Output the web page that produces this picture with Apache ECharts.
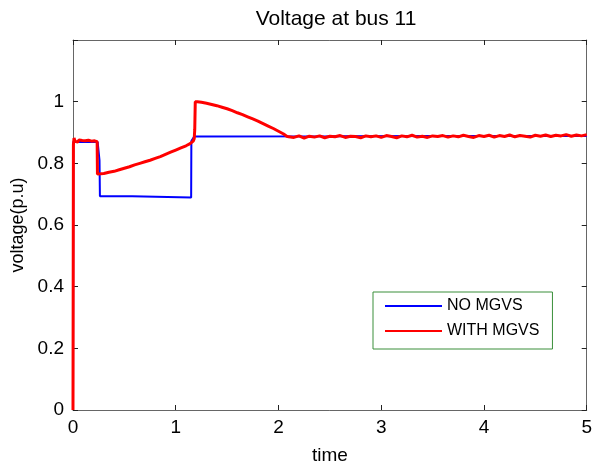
<!DOCTYPE html>
<html>
<head>
<meta charset="utf-8">
<script src="https://cdn.jsdelivr.net/npm/echarts@6/dist/echarts.min.js"></script>
<style>
html,body{margin:0;padding:0;background:#fff;}
#chart{width:595px;height:470px;}
</style>
</head>
<body>
<div id="chart"></div>
<script>
const titleText = 'Voltage at bus 11';
const xName = 'time';
const yName = 'voltage(p.u)';
const seriesNames = ['NO MGVS', 'WITH MGVS'];

const blueT = [0, 0.003, 0.24, 0.258, 0.262, 0.575, 0.58, 1.15, 1.152, 1.18, 2.5, 3.5, 5];
const blueV = [0, 0.87, 0.869, 0.81, 0.693, 0.693, 0.689, 0.689, 0.872, 0.887, 0.888, 0.889, 0.889];

const redT = [0, 0.004, 0.01, 0.02, 0.03, 0.045, 0.06, 0.075, 0.09, 0.105, 0.12, 0.135, 0.15, 0.165, 0.18, 0.195, 0.21, 0.225, 0.235, 0.238,
  0.25, 0.30, 0.35, 0.40, 0.45, 0.50, 0.55, 0.60, 0.65, 0.70, 0.75, 0.80, 0.85, 0.90, 0.95, 1.00, 1.05, 1.10, 1.14, 1.17, 1.18, 1.185, 1.19, 1.21, 1.25,
  1.30, 1.35, 1.40, 1.45, 1.50, 1.55, 1.60, 1.65, 1.70, 1.75, 1.80, 1.85, 1.90, 1.95, 2.00, 2.05, 2.08, 2.10,
  2.15, 2.20, 2.25, 2.30, 2.35, 2.40, 2.45, 2.50, 2.55, 2.60, 2.65, 2.70, 2.75, 2.80, 2.85, 2.90, 2.95, 3.00,
  3.05, 3.10, 3.15, 3.20, 3.25, 3.30, 3.35, 3.40, 3.45, 3.50, 3.55, 3.60, 3.65, 3.70, 3.75, 3.80, 3.85, 3.90, 3.95, 4.00,
  4.05, 4.10, 4.15, 4.20, 4.25, 4.30, 4.35, 4.40, 4.45, 4.50, 4.55, 4.60, 4.65, 4.70, 4.75, 4.80, 4.85, 4.90, 4.95, 5.00];
const redV = [0, 0.86, 0.882, 0.872, 0.878, 0.869, 0.876, 0.871, 0.874, 0.868, 0.873, 0.87, 0.875, 0.869, 0.872, 0.87, 0.873, 0.871, 0.87, 0.765,
  0.765, 0.767, 0.771, 0.774, 0.779, 0.784, 0.789, 0.795, 0.800, 0.805, 0.810, 0.816, 0.822, 0.829, 0.836, 0.843, 0.850, 0.857, 0.864, 0.872, 0.88, 0.91, 1.0, 1.0, 0.998,
  0.995, 0.991, 0.987, 0.982, 0.977, 0.971, 0.964, 0.958, 0.951, 0.944, 0.937, 0.929, 0.921, 0.913, 0.904, 0.895, 0.888, 0.886,
  0.884, 0.889, 0.882, 0.888, 0.885, 0.889, 0.883, 0.888, 0.886, 0.890, 0.884, 0.888, 0.887, 0.883, 0.889, 0.886, 0.889, 0.884,
  0.890, 0.887, 0.883, 0.889, 0.886, 0.891, 0.885, 0.888, 0.884, 0.889, 0.887, 0.890, 0.885, 0.889, 0.886, 0.891, 0.887, 0.884, 0.890, 0.887,
  0.891, 0.885, 0.890, 0.887, 0.892, 0.886, 0.890, 0.888, 0.885, 0.891, 0.888, 0.892, 0.887, 0.891, 0.889, 0.893, 0.888, 0.892, 0.889, 0.893];

const xTicks = [0, 1, 2, 3, 4, 5];
const yTicks = [0, 0.2, 0.4, 0.6, 0.8, 1];

const FONT = "'Liberation Sans', Arial, sans-serif";
const frameColor = '#666';
const zip = (a, b) => a.map((t, i) => [t, b[i]]);

const chart = echarts.init(document.getElementById('chart'), null, {renderer: 'canvas'});
const axisCommon = {
  axisLine: {show: true, onZero: false, lineStyle: {color: frameColor, width: 1}},
  axisTick: {show: true, inside: true, length: 5, lineStyle: {color: '#222'}},
  splitLine: {show: false}
};
chart.setOption({
  animation: false,
  backgroundColor: '#fff',
  title: {
    text: titleText, left: 331, top: 4, textAlign: 'center',
    textStyle: {fontFamily: FONT, fontSize: 21, fontWeight: 'normal', color: '#000'}
  },
  grid: {left: 73, right: 6, top: 40, bottom: 59, containLabel: false},
  legend: {
    orient: 'vertical', left: 373, top: 292,
    padding: [6, 13, 10, 12],
    itemGap: 9, itemWidth: 57, itemHeight: 2,
    icon: 'rect',
    borderColor: '#3a8f3a', borderWidth: 1, backgroundColor: '#fff',
    textStyle: {fontFamily: FONT, fontSize: 16, color: '#000', lineHeight: 16},
    data: seriesNames
  },
  xAxis: [
    Object.assign({
      type: 'value', min: xTicks[0], max: xTicks[xTicks.length - 1], interval: 1, position: 'bottom',
      name: xName, nameLocation: 'middle', nameGap: 36,
      nameTextStyle: {fontFamily: FONT, fontSize: 19, color: '#000'},
      axisLabel: {fontFamily: FONT, fontSize: 19, color: '#000', margin: 8}
    }, axisCommon),
    Object.assign({
      type: 'value', min: xTicks[0], max: xTicks[xTicks.length - 1], interval: 1, position: 'top',
      axisLabel: {show: false}
    }, axisCommon)
  ],
  yAxis: [
    Object.assign({
      type: 'value', min: 0, max: 1.2, interval: 0.2, position: 'left',
      name: yName, nameLocation: 'middle', nameGap: 44, nameRotate: 90,
      nameTextStyle: {fontFamily: FONT, fontSize: 18, color: '#000'},
      axisLabel: {fontFamily: FONT, fontSize: 19, color: '#000', margin: 9,
        formatter: v => (yTicks.some(t => Math.abs(t - v) < 1e-6) ? String(+v.toFixed(1)) : '')}
    }, axisCommon),
    Object.assign({
      type: 'value', min: 0, max: 1.2, interval: 0.2, position: 'right',
      axisLabel: {show: false}
    }, axisCommon)
  ],
  series: [
    {
      name: seriesNames[0], type: 'line', xAxisIndex: 0, yAxisIndex: 0,
      data: zip(blueT, blueV), showSymbol: false, symbol: 'none',
      lineStyle: {color: '#0000ff', width: 2}, itemStyle: {color: '#0000ff'}, sampling: null
    },
    {
      name: seriesNames[1], type: 'line', xAxisIndex: 0, yAxisIndex: 0,
      data: zip(redT, redV), showSymbol: false, symbol: 'none',
      lineStyle: {color: '#ff0000', width: 3}, itemStyle: {color: '#ff0000'}
    }
  ]
});
</script>
</body>
</html>
